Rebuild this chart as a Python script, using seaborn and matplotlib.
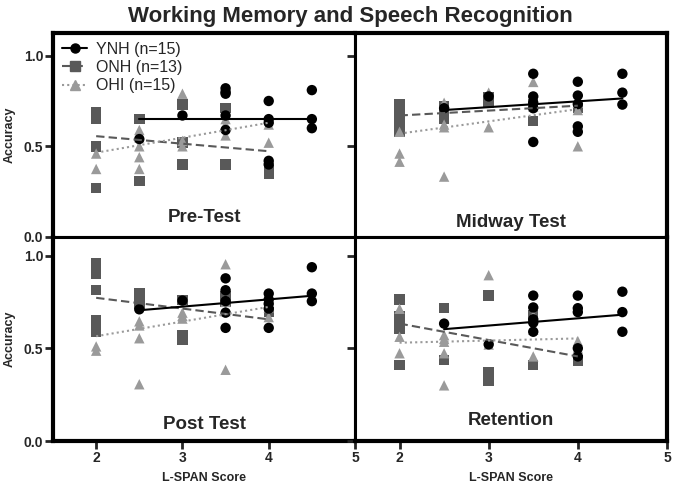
import pandas as pd
import matplotlib
matplotlib.use("Agg")
import matplotlib.pyplot as plt
from matplotlib.lines import Line2D
import seaborn as sns

# groups / panels
groups = ["ONH", "OHI", "YNH"]          # drawing order (YNH on top)
legend_order = ["YNH", "ONH", "OHI"]
legend_labels = ["YNH (n=15)", "ONH (n=13)", "OHI (n=15)"]
panels = ["Pre-Test", "Midway Test", "Post Test", "Retention"]

# accuracy values per L-SPAN score
pre_ynh = {2.5: [0.54], 3.0: [0.67], 3.5: [0.82, 0.80, 0.79, 0.67, 0.59],
           4.0: [0.75, 0.65, 0.63, 0.42, 0.40], 4.5: [0.81, 0.65, 0.60]}
pre_onh = {2.0: [0.69, 0.65, 0.50, 0.27], 2.5: [0.65, 0.31], 3.0: [0.73, 0.52, 0.40],
           3.5: [0.71, 0.40], 4.0: [0.37, 0.35]}
pre_ohi = {2.0: [0.46, 0.375], 2.5: [0.59, 0.55, 0.50, 0.44, 0.375], 3.0: [0.79, 0.53, 0.50],
           3.5: [0.65, 0.62, 0.56], 4.0: [0.62, 0.52]}

mid_ynh = {2.5: [0.71], 3.0: [0.775], 3.5: [0.90, 0.775, 0.74, 0.71, 0.524],
           4.0: [0.856, 0.78, 0.733, 0.61, 0.58], 4.5: [0.90, 0.796, 0.73]}
mid_onh = {2.0: [0.73, 0.69, 0.65, 0.61, 0.58], 2.5: [0.72, 0.69, 0.65], 3.0: [0.77, 0.74],
           3.5: [0.73, 0.64], 4.0: [0.71]}
mid_ohi = {2.0: [0.58, 0.46, 0.415], 2.5: [0.74, 0.62, 0.605, 0.333], 3.0: [0.796, 0.605],
           3.5: [0.855, 0.76, 0.72], 4.0: [0.74, 0.70, 0.50]}

post_ynh = {2.5: [0.71], 3.0: [0.757], 3.5: [0.877, 0.813, 0.754, 0.692, 0.61],
            4.0: [0.795, 0.763, 0.74, 0.714, 0.61], 4.5: [0.937, 0.795, 0.754]}
post_onh = {2.0: [0.958, 0.90, 0.813, 0.65, 0.59], 2.5: [0.795, 0.74], 3.0: [0.76, 0.569, 0.547],
            3.5: [0.78, 0.75], 4.0: [0.696]}
post_ohi = {2.0: [0.51, 0.487], 2.5: [0.645, 0.623, 0.554, 0.306], 3.0: [0.692, 0.674, 0.66],
            3.5: [0.953, 0.75, 0.70, 0.384], 4.0: [0.72, 0.668]}

ret_ynh = {2.5: [0.633], 3.0: [0.521], 3.5: [0.784, 0.72, 0.656, 0.638, 0.589],
           4.0: [0.784, 0.716, 0.695, 0.50, 0.456], 4.5: [0.805, 0.695, 0.589]}
ret_onh = {2.0: [0.762, 0.674, 0.64, 0.606, 0.411], 2.5: [0.716, 0.438], 3.0: [0.784, 0.372, 0.326],
           3.5: [0.68, 0.411], 4.0: [0.433]}
ret_ohi = {2.0: [0.713, 0.562, 0.473], 2.5: [0.571, 0.55, 0.535, 0.473, 0.30], 3.0: [0.894, 0.52],
           3.5: [0.677, 0.60, 0.456], 4.0: [0.539, 0.50]}

# regression line value at lowest / highest score of each group
pre_fit = {"YNH": [0.65, 0.65], "ONH": [0.556, 0.473], "OHI": [0.465, 0.63]}
mid_fit = {"YNH": [0.70, 0.764], "ONH": [0.67, 0.724], "OHI": [0.57, 0.705]}
post_fit = {"YNH": [0.705, 0.783], "ONH": [0.772, 0.656], "OHI": [0.565, 0.723]}
ret_fit = {"YNH": [0.603, 0.681], "ONH": [0.633, 0.456], "OHI": [0.53, 0.553]}

points = {
    "Pre-Test": {"YNH": pre_ynh, "ONH": pre_onh, "OHI": pre_ohi},
    "Midway Test": {"YNH": mid_ynh, "ONH": mid_onh, "OHI": mid_ohi},
    "Post Test": {"YNH": post_ynh, "ONH": post_onh, "OHI": post_ohi},
    "Retention": {"YNH": ret_ynh, "ONH": ret_onh, "OHI": ret_ohi},
}
fits = {"Pre-Test": pre_fit, "Midway Test": mid_fit, "Post Test": post_fit, "Retention": ret_fit}

rows, fit_rows = [], []
for p in panels:
    for g in groups:
        d = points[p][g]
        for score, accs in d.items():
            for a in accs:
                rows.append({"panel": p, "group": g, "score": score, "acc": a})
        xs = [min(d), max(d)]
        for x, y in zip(xs, fits[p][g]):
            fit_rows.append({"panel": p, "group": g, "score": x, "acc": y})
df = pd.DataFrame(rows)
fit_df = pd.DataFrame(fit_rows)

colors = {"YNH": "#000000", "ONH": "#595959", "OHI": "#9a9a9a"}
markers = {"YNH": "o", "ONH": "s", "OHI": "^"}
dashes = {"YNH": "", "ONH": (4, 2), "OHI": (1, 1.5)}

sns.set_style("white")
plt.rcParams["font.family"] = ["Liberation Sans", "DejaVu Sans"]

fig, axes = plt.subplots(2, 2, figsize=(6.73, 4.9), dpi=100,
                         gridspec_kw=dict(width_ratios=[302, 312], hspace=0, wspace=0,
                                          left=0.0788, right=0.991, top=0.9327, bottom=0.1))
label_y = [0.095, 0.07, 0.08, 0.10]

for i, (ax, p) in enumerate(zip(axes.flat, panels)):
    row, col = divmod(i, 2)
    sub = df[df.panel == p]
    sns.scatterplot(data=sub, x="score", y="acc", hue="group", style="group",
                    palette=colors, markers=markers, s=56, linewidth=0,
                    legend=False, ax=ax)
    sns.lineplot(data=fit_df[fit_df.panel == p], x="score", y="acc", hue="group",
                 style="group", palette=colors, dashes=dashes, linewidth=1.5,
                 estimator=None, legend=False, ax=ax)
    ax.set_xlim(1.5, 5)
    ax.set_ylim(0, 1.125 if row == 0 else 1.1)
    ax.set_xticks([2, 3, 4, 5])
    ax.set_yticks([0, 0.5, 1.0])
    ax.tick_params(direction="out", length=6, width=2, pad=1, labelsize=10,
                   bottom=True, left=True)
    if col == 0:
        ax.set_yticklabels(["0.0", "0.5", "1.0"], fontweight="bold")
        ax.set_ylabel("Accuracy", fontsize=9, fontweight="bold")
        ax.yaxis.set_label_coords(-0.125, 0.5)
    else:
        ax.set_yticklabels([])
        ax.set_ylabel("")
    if row == 1:
        ax.set_xticklabels(["2", "3", "4", "5"], fontweight="bold")
        ax.set_xlabel("L-SPAN Score", fontsize=9, fontweight="bold")
        ax.xaxis.set_label_coords(0.5, -0.153)
    else:
        ax.set_xticklabels([])
        ax.set_xlabel("")
    for side, sp in ax.spines.items():
        outer = (side == "left" and col == 0) or (side == "right" and col == 1) or \
                (side == "top" and row == 0) or (side == "bottom" and row == 1)
        sp.set_linewidth(3.0 if outer else 2.2)
        sp.set_color("black")
    ax.text(0.5, label_y[i], p, transform=ax.transAxes, ha="center", va="center",
            fontsize=13.5, fontweight="bold")

handles = [Line2D([], [], color=colors[g], marker=markers[g], markersize=6.5,
                  linewidth=1.5, dashes=dashes[g] if dashes[g] else (None, None))
           for g in legend_order]
handles[0].set_linestyle("-")
axes[0, 0].legend(handles, legend_labels, loc="upper left", frameon=False, fontsize=11.5,
                  handlelength=1.6, labelspacing=0.2, borderaxespad=0.1,
                  handletextpad=0.55, borderpad=0.45)

fig.text(0.52, 0.967, "Working Memory and Speech Recognition", ha="center", va="center",
         fontsize=16, fontweight="bold")

fig.savefig("out.png", dpi=100)
